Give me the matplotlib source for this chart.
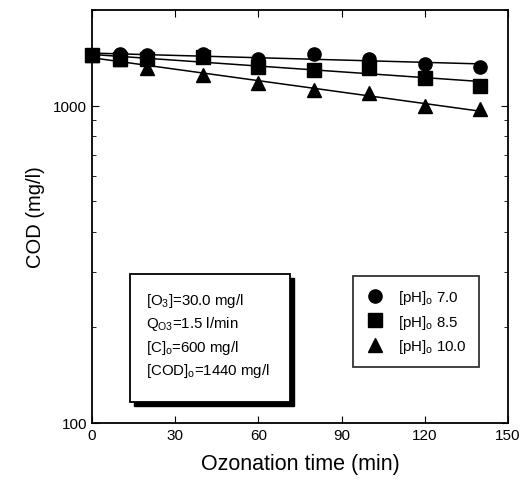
import numpy as np
import matplotlib.pyplot as plt
from matplotlib.patches import Rectangle

plt.rcParams['font.family'] = ['Liberation Sans', 'DejaVu Sans']
plt.rcParams['mathtext.fontset'] = 'custom'
plt.rcParams['mathtext.rm'] = 'Liberation Sans'
plt.rcParams['mathtext.it'] = 'Liberation Sans'

time = [0, 10, 20, 40, 60, 80, 100, 120, 140]
cod_ph70 = [1440, 1450, 1440, 1450, 1405, 1450, 1400, 1355, 1325]
cod_ph85 = [1440, 1400, 1400, 1420, 1320, 1290, 1310, 1225, 1155]
cod_ph100 = [1440, 1400, 1315, 1250, 1180, 1120, 1095, 1000, 975]
labels = ['[pH]$_o$ 7.0', '[pH]$_o$ 8.5', '[pH]$_o$ 10.0']
markers = ['o', 's', '^']
info = ['[O$_3$]=30.0 mg/l', 'Q$_{O3}$=1.5 l/min', '[C]$_o$=600 mg/l', '[COD]$_o$=1440 mg/l']

fig = plt.figure(figsize=(5.28, 4.89), dpi=100)
ax = fig.add_axes([92/528, 1-424/489, 416/528, 413/489])

x = np.array(time)
xf = np.linspace(0, 140, 50)
for ys, m, lab in zip([cod_ph70, cod_ph85, cod_ph100], markers, labels):
    ys = np.array(ys)
    p = np.polyfit(x, np.log10(ys), 1)
    ax.plot(xf, 10**np.polyval(p, xf), 'k-', lw=1.1)
    ax.plot(x, ys, marker=m, ls='none', color='k', ms=9.5, label=lab, clip_on=False)

ax.set_yscale('log')
ax.set_xlim(0, 150)
ax.set_ylim(100, 2000)
ax.set_xticks([0, 30, 60, 90, 120, 150])
ax.set_yticks([100, 1000])
ax.set_yticklabels(['100', '1000'])
ax.yaxis.set_minor_formatter(plt.NullFormatter())
ax.tick_params(which='both', direction='in', top=True, right=True, labelsize=11)
ax.tick_params(which='major', length=5)
ax.tick_params(which='minor', length=3)
for s in ax.spines.values():
    s.set_linewidth(1.3)

ax.set_xlabel('Ozonation time (min)', fontsize=15.5, labelpad=8)
ax.set_ylabel('COD (mg/l)', fontsize=14.5, labelpad=6)

# info box with shadow
bx0, bx1, by0, by1 = 0.091, 0.475, 0.05, 0.361
ax.add_patch(Rectangle((bx0 + 0.01, by0 - 0.01), bx1 - bx0, by1 - by0,
                       transform=ax.transAxes, facecolor='k', edgecolor='k', zorder=3))
ax.add_patch(Rectangle((bx0, by0), bx1 - bx0, by1 - by0, transform=ax.transAxes,
                       facecolor='white', edgecolor='k', lw=1.3, zorder=4))
for i, t in enumerate(info):
    ax.text(bx0 + 0.04, by1 - 0.062 - i * 0.057, t, transform=ax.transAxes,
            fontsize=10.8, va='center', ha='left', zorder=5)

leg = ax.legend(loc='upper left', bbox_to_anchor=(0.627, 0.356), frameon=True,
                fancybox=False, edgecolor='k', fontsize=10.8, handletextpad=0.9,
                borderpad=0.8, labelspacing=0.45, handlelength=1.3, borderaxespad=0)
leg.get_frame().set_linewidth(1.3)

fig.savefig('out.png', dpi=100)
